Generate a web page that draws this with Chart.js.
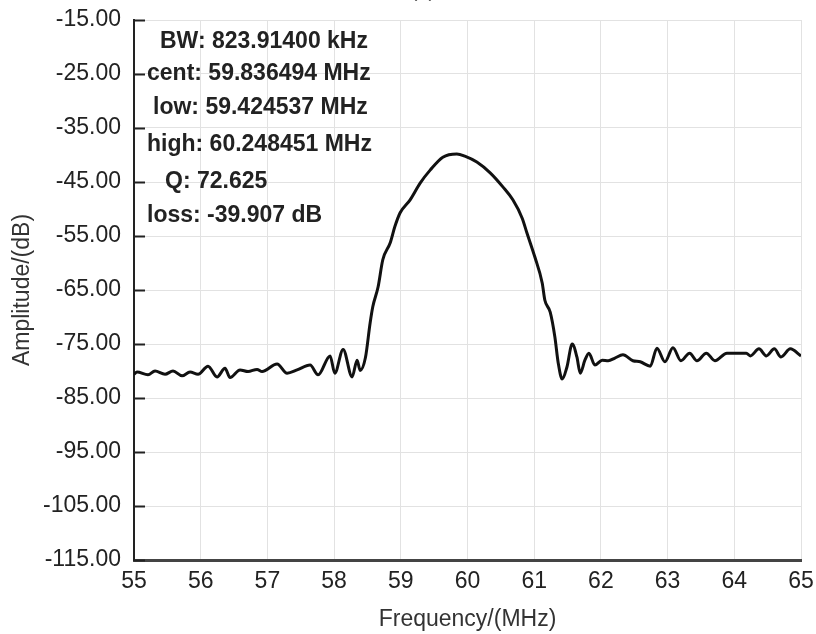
<!DOCTYPE html>
<html>
<head>
<meta charset="utf-8">
<script src="https://cdn.jsdelivr.net/npm/chart.js@4"></script>
<style>
  html, body { margin: 0; padding: 0; background: #fff; }
  #wrap { width: 816px; height: 634px; }
</style>
</head>
<body>
<div id="wrap"><canvas id="filterChart" width="816" height="634"></canvas></div>
<script>
// frekuensi (MHz) dan amplitudo (dB)
const freqMHz = [55.00, 55.045, 55.21, 55.315, 55.465, 55.585, 55.72, 55.84, 55.96, 56.11,
  56.245, 56.365, 56.44, 56.59, 56.71, 56.845, 56.92, 57.145, 57.295, 57.445,
  57.64, 57.76, 57.94, 58.01, 58.135, 58.27, 58.345, 58.39, 58.47, 58.54,
  58.58, 58.66, 58.73, 58.84, 58.91, 58.99, 59.14, 59.29, 59.44, 59.63,
  59.84, 59.96, 60.14, 60.34, 60.53, 60.68, 60.82, 60.89, 61.01, 61.12,
  61.16, 61.24, 61.31, 61.36, 61.42, 61.49, 61.57, 61.64, 61.69, 61.76,
  61.82, 61.91, 62.02, 62.11, 62.21, 62.33, 62.48, 62.59, 62.74, 62.84,
  62.96, 63.08, 63.20, 63.33, 63.44, 63.58, 63.71, 63.89, 64.04, 64.18,
  64.24, 64.37, 64.48, 64.60, 64.70, 64.84, 65.00];
const amplitudeDb = [-80.6, -80.2, -80.7, -80.0, -80.6, -80.0, -80.9, -80.2, -80.6, -79.1,
  -81.1, -79.5, -81.2, -79.8, -80.1, -79.7, -80.1, -78.7, -80.4, -79.8,
  -78.9, -80.7, -77.2, -80.4, -76.0, -81.1, -78.0, -79.9, -77.5, -71.1,
  -68.1, -64.4, -59.4, -56.3, -53.3, -50.7, -48.3, -45.2, -42.8, -40.4,
  -39.8, -40.2, -41.3, -43.3, -45.9, -48.3, -51.7, -54.4, -58.9, -63.7,
  -66.9, -69.1, -73.7, -78.5, -81.5, -79.3, -75.0, -77.4, -80.4, -78.0,
  -76.7, -78.9, -78.0, -78.1, -77.6, -77.0, -78.1, -78.3, -79.1, -75.8,
  -78.3, -75.7, -78.1, -76.7, -78.1, -76.7, -78.1, -76.7, -76.7, -76.7,
  -77.2, -75.9, -77.2, -75.9, -77.4, -75.9, -77.2];

// teks info filter
const infoLines = [
  { text: "BW: 823.91400 kHz", x: 160, y: 42 },
  { text: "cent: 59.836494 MHz", x: 147, y: 74 },
  { text: "low: 59.424537 MHz", x: 153, y: 108 },
  { text: "high: 60.248451 MHz", x: 147, y: 145 },
  { text: "Q: 72.625", x: 165, y: 182 },
  { text: "loss: -39.907 dB", x: 147, y: 216 }
];

const FONT = "'Liberation Sans', Arial, sans-serif";

// tick kecil di dalam sumbu Y + teks info
const extrasPlugin = {
  id: "extras",
  afterDatasetsDraw(chart) {
    const { ctx, scales: { y }, chartArea } = chart;
    ctx.save();
    ctx.strokeStyle = "#222";
    ctx.lineWidth = 2;
    y.ticks.forEach(t => {
      const py = Math.round(y.getPixelForValue(t.value)) + 0.5;
      ctx.beginPath();
      ctx.moveTo(chartArea.left, py);
      ctx.lineTo(chartArea.left + 11, py);
      ctx.stroke();
    });

    ctx.fillStyle = "#222";
    ctx.font = "bold 23px " + FONT;
    ctx.textBaseline = "middle";
    infoLines.forEach(l => ctx.fillText(l.text, l.x, l.y));

    // label panel (terpotong di atas)
    ctx.font = "20px " + FONT;
    ctx.fillStyle = "#555";
    ctx.textBaseline = "alphabetic";
    ctx.textAlign = "center";
    ctx.fillText("(a)", 423, -3);
    ctx.restore();
  }
};

new Chart(document.getElementById("filterChart"), {
  type: "line",
  data: {
    datasets: [{
      data: freqMHz.map((f, i) => ({ x: f, y: amplitudeDb[i] })),
      borderColor: "#111",
      borderWidth: 3,
      pointRadius: 0,
      cubicInterpolationMode: "monotone",
      fill: false
    }]
  },
  options: {
    responsive: false,
    animation: false,
    devicePixelRatio: 1,
    layout: { padding: { top: 20, right: 15, left: 0, bottom: 0 } },
    plugins: { legend: { display: false }, tooltip: { enabled: false } },
    scales: {
      x: {
        type: "linear",
        min: 55,
        max: 65,
        ticks: { stepSize: 1, color: "#222", padding: 8, font: { family: FONT, size: 23 } },
        grid: { color: "#e2e2e2", drawTicks: false },
        border: { color: "#444", width: 3 },
        title: { display: true, text: "Frequency/(MHz)", color: "#333", font: { family: FONT, size: 23 }, padding: { top: 4, bottom: 1 } },
        afterFit: s => { s.height = 74; s.paddingLeft = 0; s.paddingRight = 0; }
      },
      y: {
        min: -115,
        max: -15,
        ticks: {
          stepSize: 10,
          color: "#222",
          padding: 13,
          font: { family: FONT, size: 23 },
          callback: v => v.toFixed(2)
        },
        grid: { color: "#e2e2e2", drawTicks: false },
        border: { color: "#222", width: 2 },
        title: { display: true, text: "Amplitude/(dB)", color: "#333", font: { family: FONT, size: 23 }, padding: { top: 9, bottom: 4 } },
        afterFit: s => { s.width = 134; s.paddingTop = 0; s.paddingBottom = 0; }
      }
    }
  },
  plugins: [extrasPlugin]
});
</script>
</body>
</html>
